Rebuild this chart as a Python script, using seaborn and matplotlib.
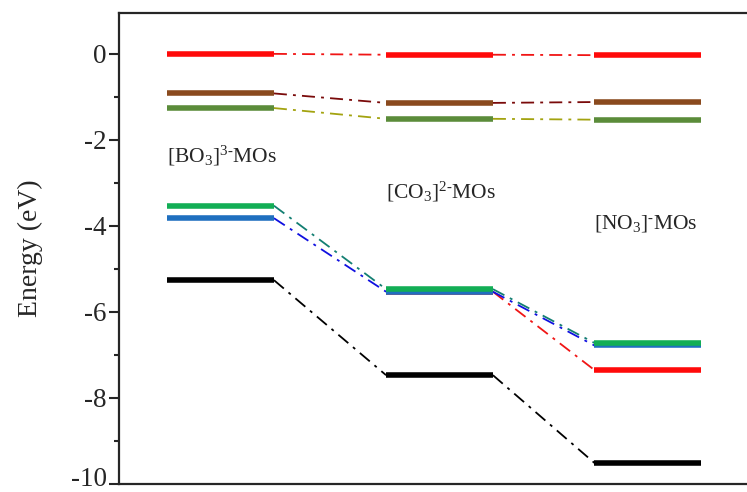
import numpy as np
import pandas as pd
import matplotlib
matplotlib.use("Agg")
import matplotlib.pyplot as plt
import matplotlib.transforms as mtransforms
import seaborn as sns

# Molecular-orbital energies (eV) for the three anion groups
groups = ["[BO3]3-", "[CO3]2-", "[NO3]-"]
group_labels = [r"[BO$_3$]$^{3\text{-}}$MOs", r"[CO$_3$]$^{2\text{-}}$MOs",
                r"[NO$_3$]$^{\text{-}}$MOs"]

mo_red = [0.00, -0.02, -0.03]
mo_brown = [-0.92, -1.14, -1.12]
mo_olive = [-1.26, -1.51, -1.53]
mo_green = [-3.53, -5.47, -6.72]
mo_blue = [-3.82, -5.53, -6.78]
mo_black = [-5.26, -7.47, -9.51]
# red level that splits off the degenerate CO3 pair in NO3
mo_red_low = [np.nan, -5.53, -7.35]

series = {
    "red_low": mo_red_low,
    "red": mo_red,
    "brown": mo_brown,
    "olive": mo_olive,
    "blue": mo_blue,
    "green": mo_green,
    "black": mo_black,
}

level_colors = {
    "red_low": "#ff0a0a", "red": "#ff0a0a", "brown": "#8a4a1e",
    "olive": "#5b8c3a", "blue": "#1f6fbf", "green": "#12ae55", "black": "#000000",
}
link_colors = {
    "red_low": "#f01515", "red": "#f01515", "brown": "#7a0a0a",
    "olive": "#a3a310", "blue": "#1010e0", "green": "#137f72", "black": "#000000",
}

# horizontal placement of the three level columns
col_start = [0.45, 2.50, 4.45]
col_width = 1.0

level_rows, link_rows = [], []
for name, vals in series.items():
    for i, e in enumerate(vals):
        if np.isnan(e):
            continue
        seg = f"{name}-{i}"
        level_rows.append((name, seg, col_start[i], e))
        level_rows.append((name, seg, col_start[i] + col_width, e))
    for i in range(len(vals) - 1):
        if np.isnan(vals[i]) or np.isnan(vals[i + 1]):
            continue
        seg = f"{name}-{i}"
        link_rows.append((name, seg, col_start[i] + col_width, vals[i]))
        link_rows.append((name, seg, col_start[i + 1], vals[i + 1]))

levels = pd.DataFrame(level_rows, columns=["mo", "seg", "x", "energy"])
links = pd.DataFrame(link_rows, columns=["mo", "seg", "x", "energy"])

sns.set_style("ticks")
plt.rcParams["font.family"] = ["Liberation Serif", "DejaVu Serif"]
plt.rcParams["mathtext.fontset"] = "custom"
plt.rcParams["mathtext.rm"] = "Liberation Serif"
plt.rcParams["mathtext.it"] = "Liberation Serif:italic"
plt.rcParams["mathtext.bf"] = "Liberation Serif:bold"

fig = plt.figure(figsize=(7.47, 4.92), dpi=100)
ax = fig.add_axes([119 / 747, 8 / 492, 641 / 747, 471 / 492])

sns.lineplot(data=links, x="x", y="energy", hue="mo", units="seg",
             estimator=None, sort=False, palette=link_colors, legend=False,
             linewidth=1.3, linestyle=(0, (7.2, 3.4, 1.6, 3.4)), ax=ax)
sns.lineplot(data=levels, x="x", y="energy", hue="mo", units="seg",
             estimator=None, sort=False, palette=level_colors, legend=False,
             linewidth=4.0, solid_capstyle="butt", ax=ax)

label_y = [-2.51, -3.35, -4.05]
for i, lab in enumerate(group_labels):
    ax.text(col_start[i], label_y[i], lab, fontsize=15.5, va="baseline", ha="left")

ax.set_xlim(0, 6)
ax.set_ylim(-10, 0.95)
ax.set_yticks([0, -2, -4, -6, -8, -10])
ax.set_yticklabels(["0", "-2", "-4", "-6", "-8", "-10"])
ax.set_yticks([-1, -3, -5, -7, -9], minor=True)
ax.set_xticks([])
ax.set_xlabel("")
ax.set_ylabel("Energy (eV)", fontsize=20, labelpad=20)

ax.tick_params(axis="y", which="major", direction="out", length=7, width=1.5,
               labelsize=19.5, pad=2)
ax.tick_params(axis="y", which="minor", direction="out", length=3.5, width=1.5)
for sp in ax.spines.values():
    sp.set_linewidth(1.6)
    sp.set_visible(True)

# keep the lowest tick label inside the canvas
fig.canvas.draw()
bottom_label = ax.get_yticklabels()[-1]
bottom_label.set_transform(bottom_label.get_transform() +
                           mtransforms.ScaledTranslation(0, 8 / 100, fig.dpi_scale_trans))

fig.savefig("out.png", dpi=100, facecolor="white")
